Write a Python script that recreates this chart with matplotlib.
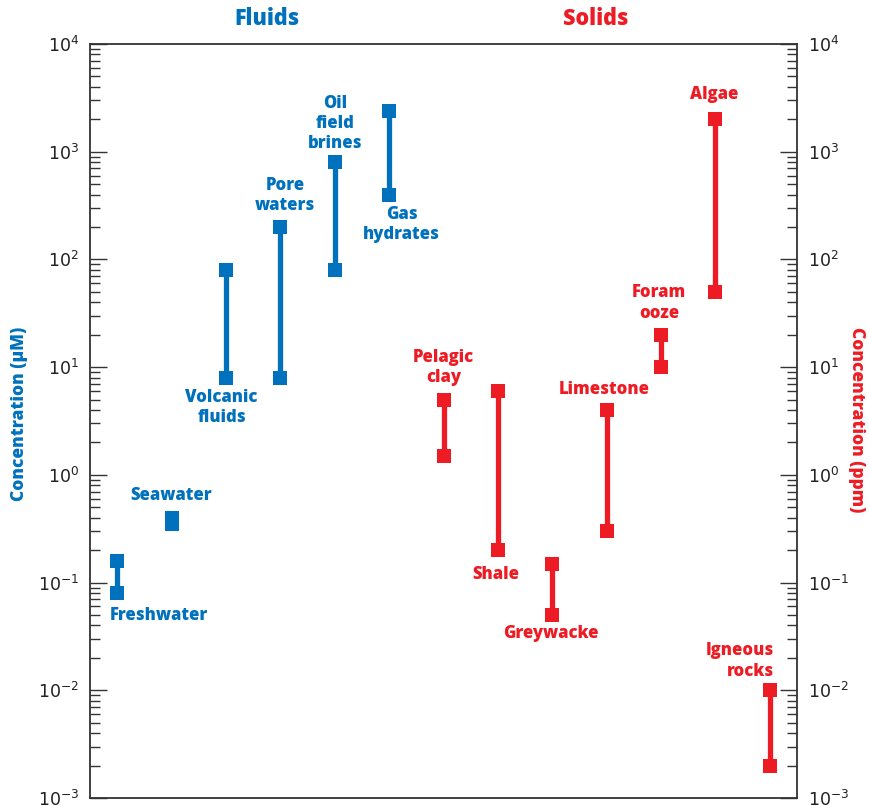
import matplotlib.pyplot as plt
from matplotlib.ticker import LogLocator, NullFormatter

# concentration ranges (low, high) for each reservoir
names = ['Freshwater', 'Seawater', 'Volcanic\nfluids', 'Pore\nwaters', 'Oil\nfield\nbrines', 'Gas\nhydrates',
         'Pelagic\nclay', 'Shale', 'Greywacke', 'Limestone', 'Foram\nooze', 'Algae', 'Igneous\nrocks']
low = [0.08, 0.35, 8, 8, 80, 400, 1.5, 0.2, 0.05, 0.3, 10, 50, 0.002]
high = [0.16, 0.40, 80, 200, 800, 2400, 5, 6, 0.15, 4, 20, 2000, 0.01]
kind = ['fluid'] * 6 + ['solid'] * 7

# where each name sits (x offset from the bar, y in concentration units)
label_dx = [0.76, 0.0, -0.08, 0.09, 0.01, 0.23, 0.0, -0.04, -0.03, -0.05, -0.04, -0.02, 0.08]
label_y = [0.05, 0.64, 4.2, 390, 1820, 210, 10, 0.118, 0.034, 6.2, 39.5, 3380, 0.0187]

blue = '#0071bc'
red = '#ed1c24'
axcol = '#333333'
font = 'Open Sans'

fig = plt.figure(figsize=(8.69, 8.06), dpi=100)
ax = fig.add_axes([0.1036, 0.0099, 0.8136, 0.9355])

for i in range(len(names)):
    c = blue if kind[i] == 'fluid' else red
    ax.plot([i, i], [low[i], high[i]], color=c, lw=3.8, solid_capstyle='butt', zorder=2)
    ax.plot([i, i], [low[i], high[i]], 's', color=c, ms=10, mew=0, zorder=3)
    ha = 'right' if i == len(names) - 1 else 'center'
    ax.text(i + label_dx[i], label_y[i], names[i], color=c, fontsize=12, fontweight='heavy',
            family=font, ha=ha, va='center', multialignment=ha, linespacing=1.25)

ax.set_yscale('log')
ax.set_ylim(1e-3, 1e4)
ax.set_xlim(-0.5, 12.5)
ax.set_xticks([])

ax.yaxis.set_major_locator(LogLocator(base=10, numticks=10))
ax.yaxis.set_minor_locator(LogLocator(base=10, subs=range(2, 10), numticks=20))
ax.yaxis.set_minor_formatter(NullFormatter())
ax.tick_params(axis='y', which='both', direction='in', left=True, right=True,
               labelleft=True, labelright=True, colors=axcol, labelcolor='#222222')
ax.tick_params(axis='y', which='major', length=12, width=1.0, labelsize=12.5, pad=8)
ax.tick_params(axis='y', which='minor', length=7, width=1.0)
for s in ax.spines.values():
    s.set_color(axcol)
    s.set_linewidth(1.3)

fig.text(267 / 869, 1 - 19 / 806, 'Fluids', color=blue, fontsize=15.5, fontweight='heavy',
         family=font, ha='center', va='center')
fig.text(596 / 869, 1 - 19 / 806, 'Solids', color=red, fontsize=15.5, fontweight='heavy',
         family=font, ha='center', va='center')
fig.text(20 / 869, 1 - 414 / 806, 'Concentration (µM)', color=blue, fontsize=12.5, fontweight='heavy',
         family=font, ha='center', va='center', rotation=90)
fig.text(857 / 869, 1 - 420 / 806, 'Concentration (ppm)', color=red, fontsize=12.5, fontweight='heavy',
         family=font, ha='center', va='center', rotation=-90)

fig.savefig('out.png', dpi=100)
